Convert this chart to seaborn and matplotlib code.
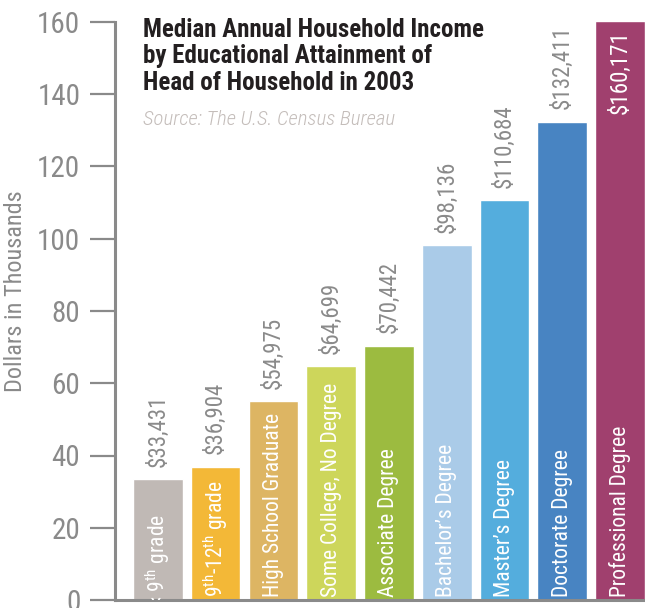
import matplotlib
matplotlib.use("Agg")
import matplotlib.pyplot as plt
import seaborn as sns
import pandas as pd

categories = ["< 9$^{\\mathrm{th}}$ grade", "9$^{\\mathrm{th}}$-12$^{\\mathrm{th}}$ grade",
              "High School Graduate", "Some College, No Degree", "Associate Degree",
              "Bachelor\u2019s Degree", "Master\u2019s Degree", "Doctorate Degree",
              "Professional Degree"]
incomes = [33431, 36904, 54975, 64699, 70442, 98136, 110684, 132411, 160171]
value_labels = ["$33,431", "$36,904", "$54,975", "$64,699", "$70,442",
                "$98,136", "$110,684", "$132,411", "$160,171"]
colors = ["#C0B9B5", "#F3B837", "#DDB563", "#CDD65B", "#9CBB40",
          "#AACBE8", "#54ADDD", "#4884C2", "#A0406E"]
yticks = [0, 20, 40, 60, 80, 100, 120, 140, 160]

FONT = ["Roboto Condensed", "Roboto", "DejaVu Sans"]
GRAY = "#8A8A8A"

sns.set_theme(style="white")
plt.rcParams["font.family"] = FONT
plt.rcParams["mathtext.fontset"] = "custom"
plt.rcParams["mathtext.rm"] = "Roboto Condensed"
plt.rcParams["mathtext.it"] = "Roboto Condensed:italic"
plt.rcParams["mathtext.bf"] = "Roboto Condensed:bold"

df = pd.DataFrame({"cat": categories, "val": [v / 1000 for v in incomes]})

fig = plt.figure(figsize=(6.45, 6.08), dpi=100)
ax = fig.add_axes([115 / 645, 8 / 608, 530 / 645, 578 / 608])

sns.barplot(data=df, x="cat", y="val", hue="cat", palette=colors, legend=False,
            width=0.86, ax=ax, saturation=1)

ax.set_xlim(-0.74, 8.43)
ax.set_ylim(0, 160)
ax.set_yticks(yticks)
ax.set_yticklabels([str(t) for t in yticks])
ax.set_xticks([])
ax.set_xlabel("")
ax.set_ylabel("Dollars in Thousands", color=GRAY, fontsize=17.5)
ax.yaxis.set_label_coords(-0.166, 0.535)

for s in ["top", "right"]:
    ax.spines[s].set_visible(False)
for s in ["left", "bottom"]:
    ax.spines[s].set_color(GRAY)
    ax.spines[s].set_linewidth(2.2)
ax.tick_params(axis="y", direction="out", length=18, width=1.6, color=GRAY,
               labelcolor=GRAY, labelsize=21, pad=7, left=True)

for i, (v, lab) in enumerate(zip(df["val"], value_labels)):
    if i == len(value_labels) - 1:
        ax.annotate(lab, (i, v), xytext=(0, -6), textcoords="offset points",
                    rotation=90, ha="center", va="top", color="white",
                    fontsize=16.5, annotation_clip=False)
    else:
        ax.annotate(lab, (i, v), xytext=(0, 9), textcoords="offset points",
                    rotation=90, ha="center", va="bottom", color=GRAY,
                    fontsize=16.5, annotation_clip=False)

for i, c in enumerate(categories):
    off = -4 if i == 0 else 2.5
    ax.annotate(c, (i, 0), xytext=(0, off), textcoords="offset points",
                rotation=90, ha="center", va="bottom", color="white",
                fontsize=15.5, annotation_clip=False, clip_on=True)

fig.text(143 / 645, 1 - 18 / 608,
         "Median Annual Household Income\nby Educational Attainment of\nHead of Household in 2003",
         ha="left", va="top", fontsize=18, fontweight="bold", color="#231F20",
         linespacing=1.13)
fig.text(143 / 645, 1 - 110 / 608, "Source: The U.S. Census Bureau",
         ha="left", va="top", fontsize=15, style="italic", fontweight="light",
         color="#C4BDBA")

fig.savefig("out.png", dpi=100)
